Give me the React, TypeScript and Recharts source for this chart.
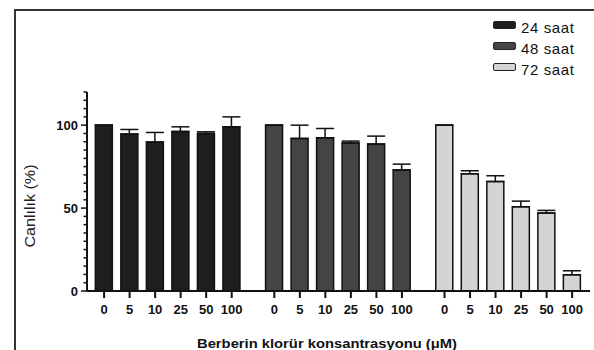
import React from 'react';
import { BarChart, Bar, Cell, XAxis, YAxis, ErrorBar, Legend, Label } from 'recharts';

const concentrations = ['0', '5', '10', '25', '50', '100'];
const groups = ['24 saat', '48 saat', '72 saat'];
const groupColors = ['#1e1e1e', '#444444', '#d4d4d4'];

const viability24 = [100, 94.6, 89.8, 96.2, 95, 99];
const error24 = [0, 2.8, 5.8, 2.8, 1, 6];
const viability48 = [100, 92, 92.4, 89.2, 88.6, 73];
const error48 = [0, 8, 5.6, 1.2, 4.8, 3.5];
const viability72 = [100, 70.7, 66, 50.8, 47, 9.8];
const error72 = [0, 1.8, 3.5, 3.4, 1.6, 2.4];

const yTicks = [0, 5, 10, 15, 20, 25, 30, 35, 40, 45, 50, 55, 60, 65, 70, 75, 80, 85, 90, 95, 100, 105, 110, 115, 120];

const FONT = '"Liberation Sans", Arial, Helvetica, sans-serif';
const GROUP_STEP = 6.67; // slot distance between first bars of neighbouring groups

const seriesValues = [viability24, viability48, viability72];
const seriesErrors = [error24, error48, error72];

const data = seriesValues.flatMap((vals, g) =>
    vals.map((v, i) => ({
        pos: g * GROUP_STEP + i,
        label: concentrations[i],
        group: g,
        value: v,
        err: [0, seriesErrors[g][i]],
    }))
);

const labelByPos: Record<string, string> = {};
data.forEach((d) => {
    labelByPos[d.pos.toFixed(2)] = d.label;
});

const YTick = (props: any) => {
    const { x, y, payload } = props;
    const major = payload.value % 50 === 0;
    return (
        <g>
            <line x1={x} x2={x - (major ? 6 : 3.5)} y1={y} y2={y} stroke="#111" strokeWidth={1.5} />
            {major && (
                <text x={x - 9} y={y} textAnchor="end" dominantBaseline="central"
                    fontFamily={FONT} fontSize={13} fontWeight="bold" fill="#111">
                    {payload.value}
                </text>
            )}
        </g>
    );
};

const LegendBox = () => (
    <div style={{ fontFamily: FONT, fontSize: 15, letterSpacing: 0.6, color: '#111' }}>
        {groups.map((name, i) => (
            <div key={name} style={{ display: 'flex', alignItems: 'center', height: 21 }}>
                <span style={{
                    display: 'inline-block', width: 21, height: 6, background: groupColors[i],
                    border: '1px solid #222', borderRadius: 2, marginRight: 5,
                }} />
                <span style={{ position: 'relative', top: 3 }}>{name}</span>
            </div>
        ))}
    </div>
);

export default function App() {
    return (
        <div style={{ position: 'absolute', left: 0, top: 0, width: 594, height: 350, overflow: 'hidden', background: '#fff' }}>
            <div style={{
                position: 'absolute', left: 14, top: 9, width: 700, height: 500,
                border: '2px solid #333',
            }} />
            <div style={{ position: 'absolute', left: 0, top: 0 }}>
                <BarChart width={594} height={350} data={data}
                    margin={{ top: 92, right: 4, bottom: 29, left: 0 }}>
                    <XAxis
                        dataKey="pos"
                        type="number"
                        domain={[-0.67, 19.04]}
                        ticks={data.map((d) => d.pos)}
                        interval={0}
                        tickFormatter={(v: number) => labelByPos[v.toFixed(2)] ?? ''}
                        height={30}
                        tickSize={7}
                        tickMargin={7}
                        axisLine={{ stroke: '#111', strokeWidth: 2 }}
                        tickLine={{ stroke: '#111', strokeWidth: 2 }}
                        tick={{ fontFamily: FONT, fontSize: 13, fontWeight: 'bold', fill: '#111' }}
                    >
                        <Label content={() => (
                            <text x={327} y={348} textAnchor="middle" fontFamily={FONT}
                                fontSize={13} fontWeight="bold" fill="#111"
                                textLength={260} lengthAdjust="spacingAndGlyphs">
                                Berberin klorür konsantrasyonu (μM)
                            </text>
                        )} />
                    </XAxis>
                    <YAxis
                        type="number"
                        domain={[0, 120]}
                        ticks={yTicks}
                        interval={0}
                        width={87}
                        tickSize={0}
                        tickMargin={0}
                        tickLine={false}
                        axisLine={{ stroke: '#111', strokeWidth: 2 }}
                        tick={<YTick />}
                    >
                        <Label content={() => (
                            <text x={35} y={206} transform="rotate(-90 35 206)" textAnchor="middle"
                                fontFamily={FONT} fontSize={15.5} fill="#222"
                                textLength={83} lengthAdjust="spacingAndGlyphs">
                                Canlılık (%)
                            </text>
                        )} />
                    </YAxis>
                    <Legend
                        layout="vertical"
                        align="center"
                        verticalAlign="middle"
                        content={() => <LegendBox />}
                        wrapperStyle={{ position: 'absolute', left: 493, top: 14, width: 100, height: 66 }}
                    />
                    <Bar dataKey="value" barSize={17} stroke="#111" strokeWidth={1.5} isAnimationActive={false}>
                        {data.map((d, i) => (
                            <Cell key={`cell-${i}`} fill={groupColors[d.group]} />
                        ))}
                        <ErrorBar dataKey="err" direction="y" width={9} stroke="#111" strokeWidth={1.5} isAnimationActive={false} />
                    </Bar>
                </BarChart>
            </div>
        </div>
    );
}
